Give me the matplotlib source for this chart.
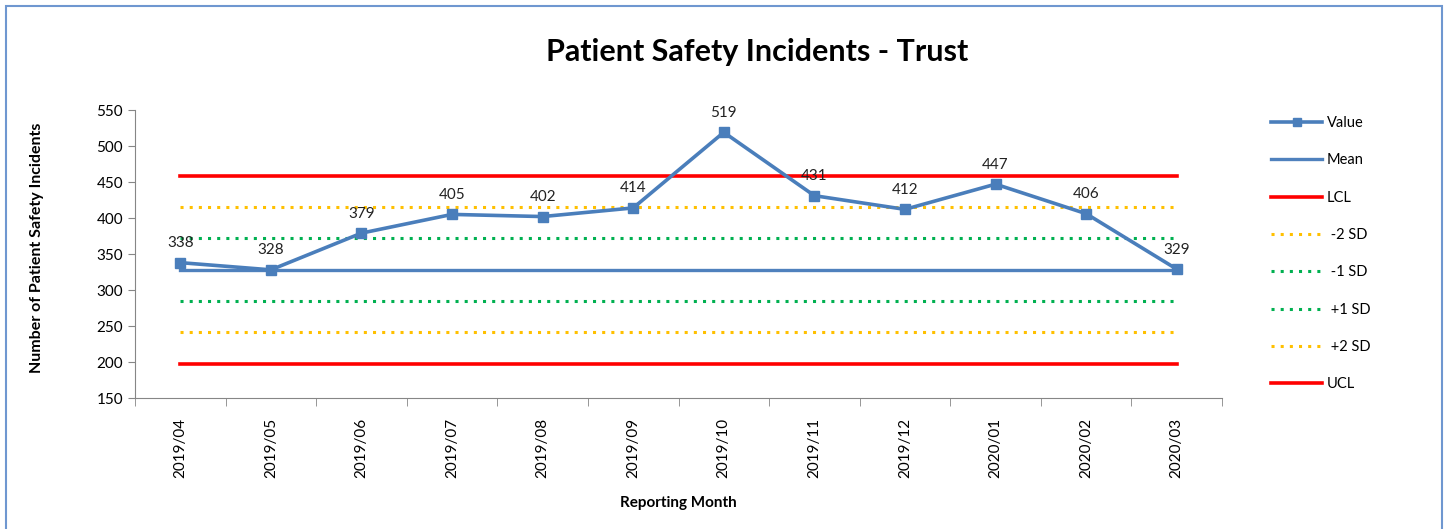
import matplotlib
matplotlib.use("Agg")
import matplotlib.pyplot as plt
import numpy as np
from matplotlib.patches import Rectangle

months = ["2019/04", "2019/05", "2019/06", "2019/07", "2019/08", "2019/09",
          "2019/10", "2019/11", "2019/12", "2020/01", "2020/02", "2020/03"]
values = [338, 328, 379, 405, 402, 414, 519, 431, 412, 447, 406, 329]

mean = 328
lcl = 459
minus_2sd = 415
minus_1sd = 372
plus_1sd = 285
plus_2sd = 241
ucl = 197

plt.rcParams['font.family'] = ['Lato', 'DejaVu Sans']

fig = plt.figure(figsize=(14.48, 5.29), dpi=100)
ax = fig.add_axes([135 / 1448, 1 - 398 / 529, (1222 - 135) / 1448, (398 - 110) / 529])

x = np.arange(len(months))
n = len(months)

ax.plot(x, values, color="#4A7EBB", lw=2.6, marker="s", ms=7, label="Value", zorder=5)
ax.plot(x, [mean] * n, color="#4F81BD", lw=2.4, label="Mean", zorder=4)
ax.plot(x, [lcl] * n, color="#FF0000", lw=2.6, label="LCL", zorder=3)
ax.plot(x, [minus_2sd] * n, color="#FFC000", lw=2.2, ls=(0, (1, 2)), label=" -2 SD", zorder=3)
ax.plot(x, [minus_1sd] * n, color="#00B050", lw=2.2, ls=(0, (1, 2)), label=" -1 SD", zorder=3)
ax.plot(x, [plus_1sd] * n, color="#00B050", lw=2.2, ls=(0, (1, 2)), label=" +1 SD", zorder=3)
ax.plot(x, [plus_2sd] * n, color="#FFC000", lw=2.2, ls=(0, (1, 2)), label=" +2 SD", zorder=3)
ax.plot(x, [ucl] * n, color="#FF0000", lw=2.6, label="UCL", zorder=3)

for xi, v in zip(x, values):
    ax.annotate(str(v), (xi, v), xytext=(0, 9), textcoords="offset points",
                ha="center", va="bottom", fontsize=11, color="#222222", zorder=6)

ax.set_xlim(-0.5, n - 0.5)
ax.set_ylim(150, 550)
ax.set_yticks(range(150, 551, 50))
ax.set_xticks(x)
ax.set_xticklabels(months, rotation=90, fontsize=11)
ax.set_xticks(np.arange(-0.5, n, 1), minor=True)
ax.tick_params(axis="x", which="major", length=0, pad=14)
ax.tick_params(axis="x", which="minor", length=6, color="#868686", direction="out")
ax.tick_params(axis="y", length=5, color="#868686", labelsize=11, direction="out")

for s in ["top", "right"]:
    ax.spines[s].set_visible(False)
for s in ["left", "bottom"]:
    ax.spines[s].set_color("#868686")

ax.set_ylabel("Number of Patient Safety Incidents", fontsize=11.5, fontweight="bold")
ax.yaxis.set_label_coords(-0.084, 0.52)
ax.set_xlabel("Reporting Month", fontsize=11, fontweight="bold")
ax.xaxis.set_label_coords(0.5, -0.341)

fig.text(757 / 1448, 1 - 52 / 529, "Patient Safety Incidents - Trust",
         ha="center", va="center", fontsize=22, fontweight="bold")

ax.legend(loc="upper left", bbox_to_anchor=(1258 / 1448, 1 - 103 / 529),
          bbox_transform=fig.transFigure, frameon=False, fontsize=10.5,
          handlelength=3.5, handletextpad=0.3, labelspacing=1.6, markerscale=0.9)

fig.patches.append(Rectangle((6 / 1448, -0.05), (1442 - 6) / 1448, 1.05 - 6 / 529,
                             transform=fig.transFigure, fill=False,
                             edgecolor="#6F97D0", lw=1.5))

fig.savefig("out.png", dpi=100)
